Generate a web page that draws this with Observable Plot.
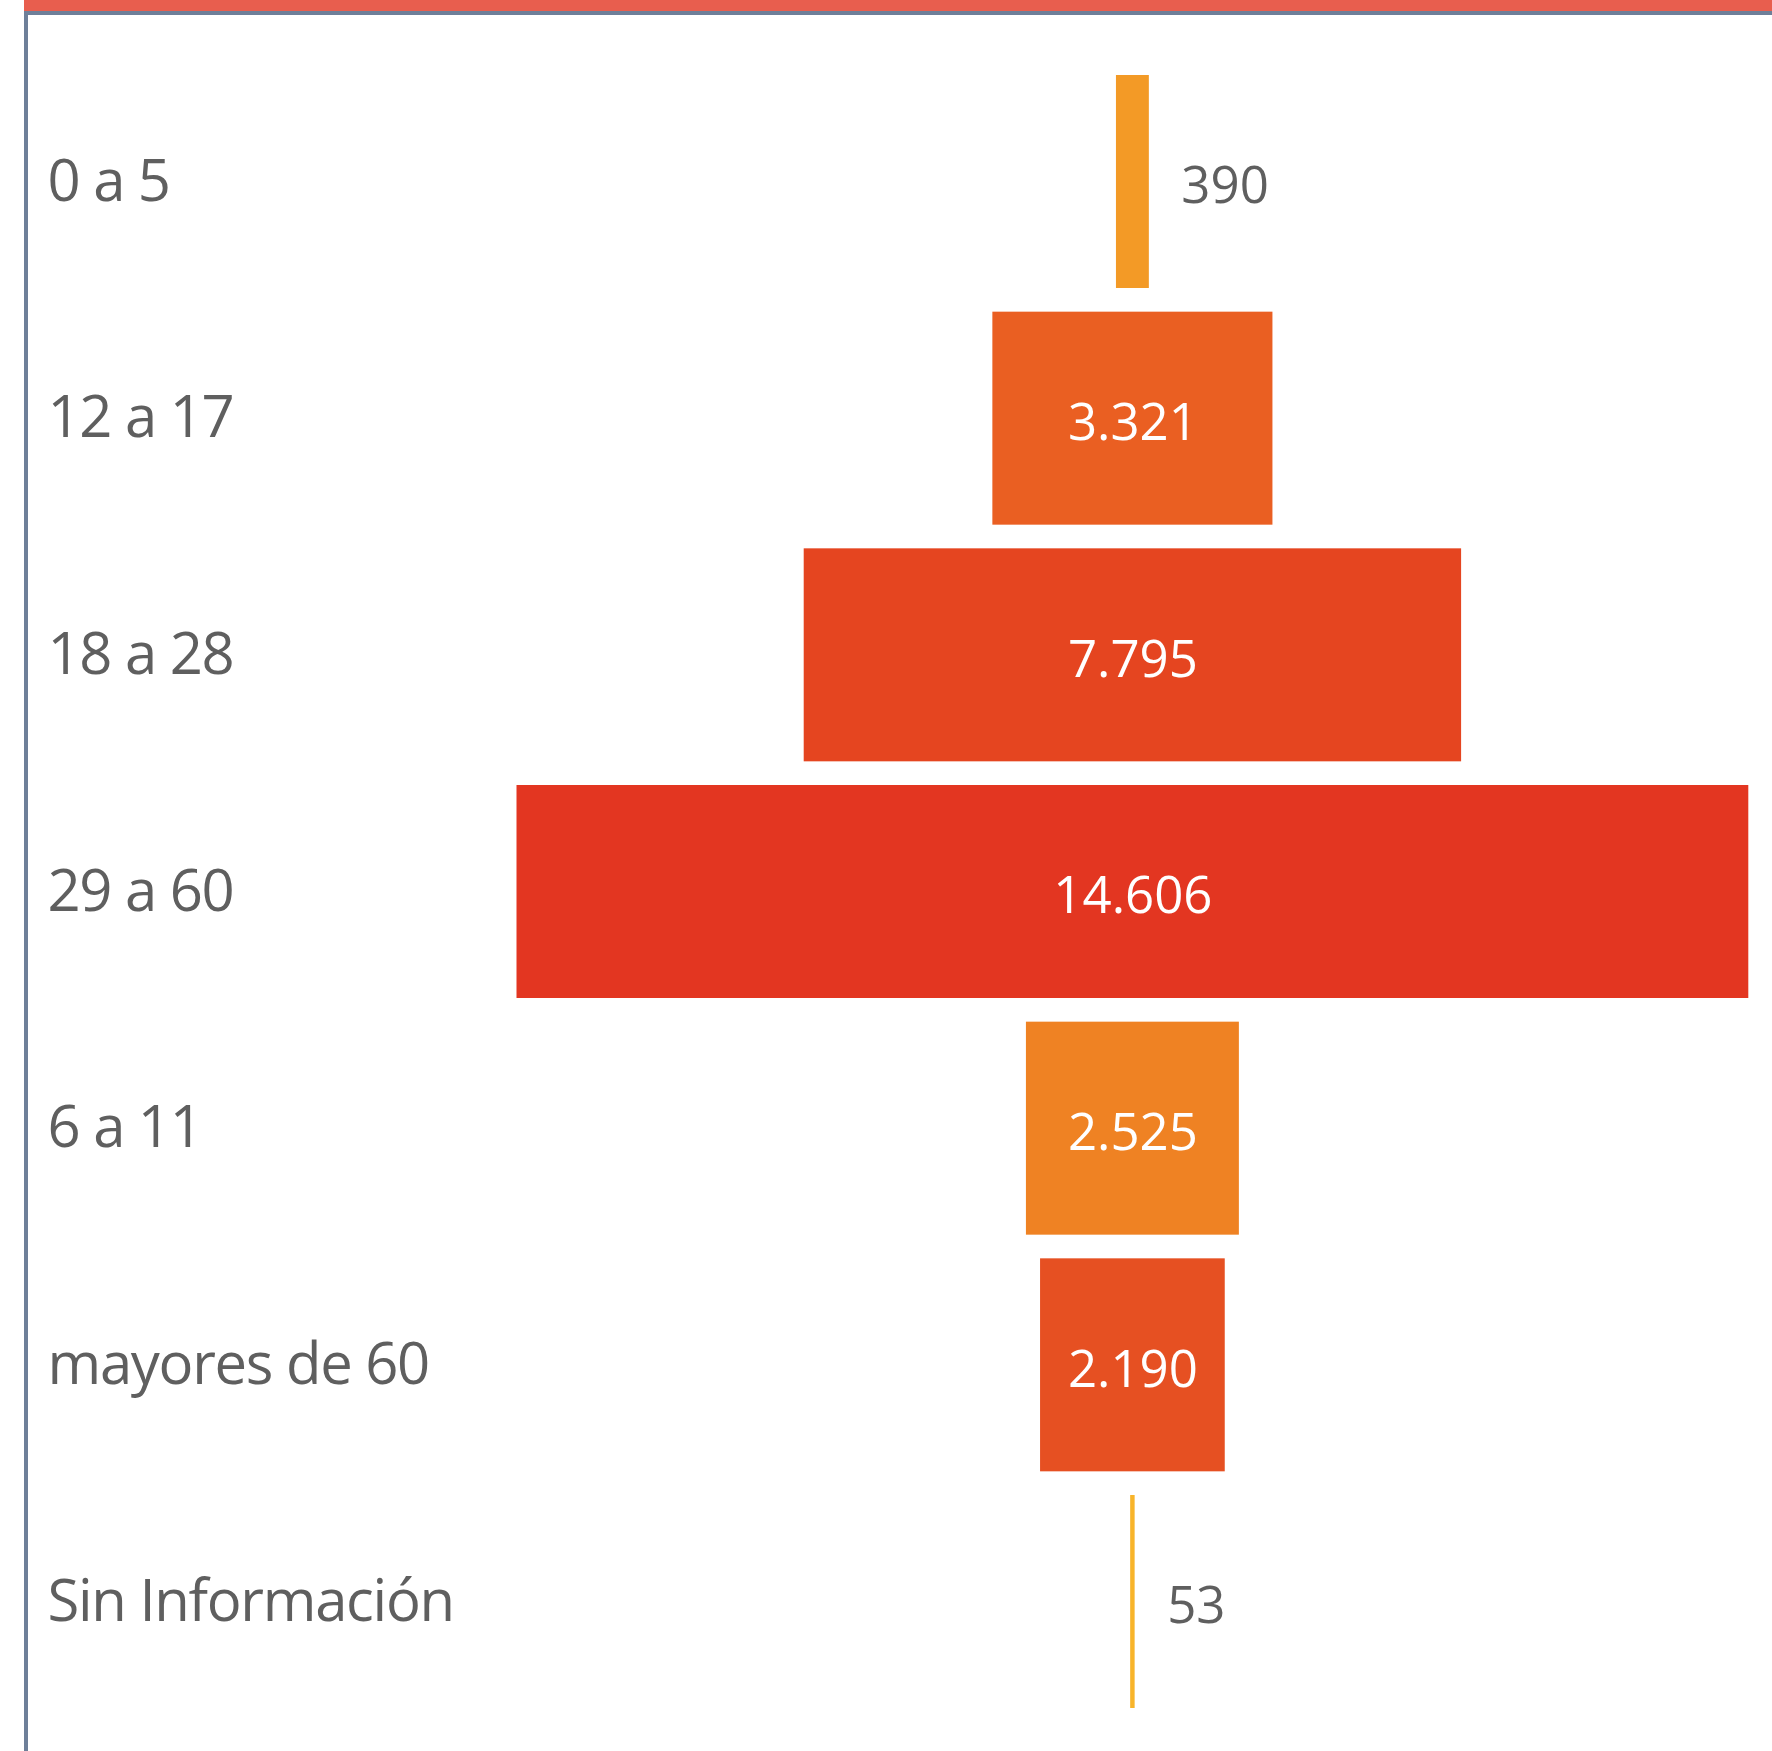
<!DOCTYPE html>
<html>
<head>
<meta charset="utf-8">
<script src="https://cdn.jsdelivr.net/npm/d3@7"></script>
<script src="https://cdn.jsdelivr.net/npm/@observablehq/plot@0.6"></script>
<style>
  html, body { margin: 0; padding: 0; background: #ffffff; }
  #wrap { position: relative; width: 1772px; height: 1751px; overflow: hidden; }
  #topband { position: absolute; left: 24px; top: 0; width: 1748px; height: 11px; background: #E85E4E; }
  #frame { position: absolute; left: 24px; top: 11px; width: 1748px; height: 1740px; box-sizing: border-box;
           border-top: 4px solid #6E7F99; border-left: 4px solid #6E7F99; }
  #chart { position: absolute; left: 0; top: 0; }
  .catlabel text { letter-spacing: -1.3px; }
</style>
</head>
<body>
<div id="wrap">
  <div id="topband"></div>
  <div id="frame"></div>
  <div id="chart"></div>
</div>
<script>
const categories = ["0 a 5", "12 a 17", "18 a 28", "29 a 60", "6 a 11", "mayores de 60", "Sin Información"];
const values = [390, 3321, 7795, 14606, 2525, 2190, 53];
const colors = ["#F39A26", "#EA5F22", "#E54520", "#E33621", "#EF8223", "#E65022", "#F8B42A"];

const data = categories.map((c, i) => ({cat: c, value: values[i]}));
const fmt = d3.formatLocale({decimal: ",", thousands: ".", grouping: [3], currency: ["", ""]}).format(",");
const maxV = d3.max(values);
const inside = d => d.value > 1000;

const chart = Plot.plot({
  width: 1772,
  height: 1751,
  marginLeft: 0,
  marginRight: 0,
  marginTop: 0,
  marginBottom: 0,
  style: {fontFamily: "'Open Sans', 'Noto Sans', sans-serif", background: "transparent"},
  x: {domain: [-maxV / 2, maxV / 2], range: [516.5, 1748.3], axis: null},
  y: {domain: categories, range: [75, 1708], paddingInner: 0.1, paddingOuter: 0, round: false, axis: null},
  color: {domain: categories, range: colors},
  marks: [
    Plot.barX(data, {y: "cat", x1: d => -d.value / 2, x2: d => d.value / 2, fill: "cat"}),
    Plot.text(data, {y: "cat", text: "cat", frameAnchor: "left", textAnchor: "start", dx: 47,
                     fontSize: 58, fill: "#5f5f5f", className: "catlabel"}),
    Plot.text(data.filter(inside), {y: "cat", x: () => 0, text: d => fmt(d.value), textAnchor: "middle",
                     fontSize: 51, dy: 5, fill: "#ffffff"}),
    Plot.text(data.filter(d => !inside(d)), {y: "cat", x: d => d.value / 2, text: d => fmt(d.value),
                     textAnchor: "start", dx: 32, fontSize: 51, dy: 5, fill: "#5f5f5f"})
  ]
});
document.getElementById("chart").appendChild(chart);
</script>
</body>
</html>
